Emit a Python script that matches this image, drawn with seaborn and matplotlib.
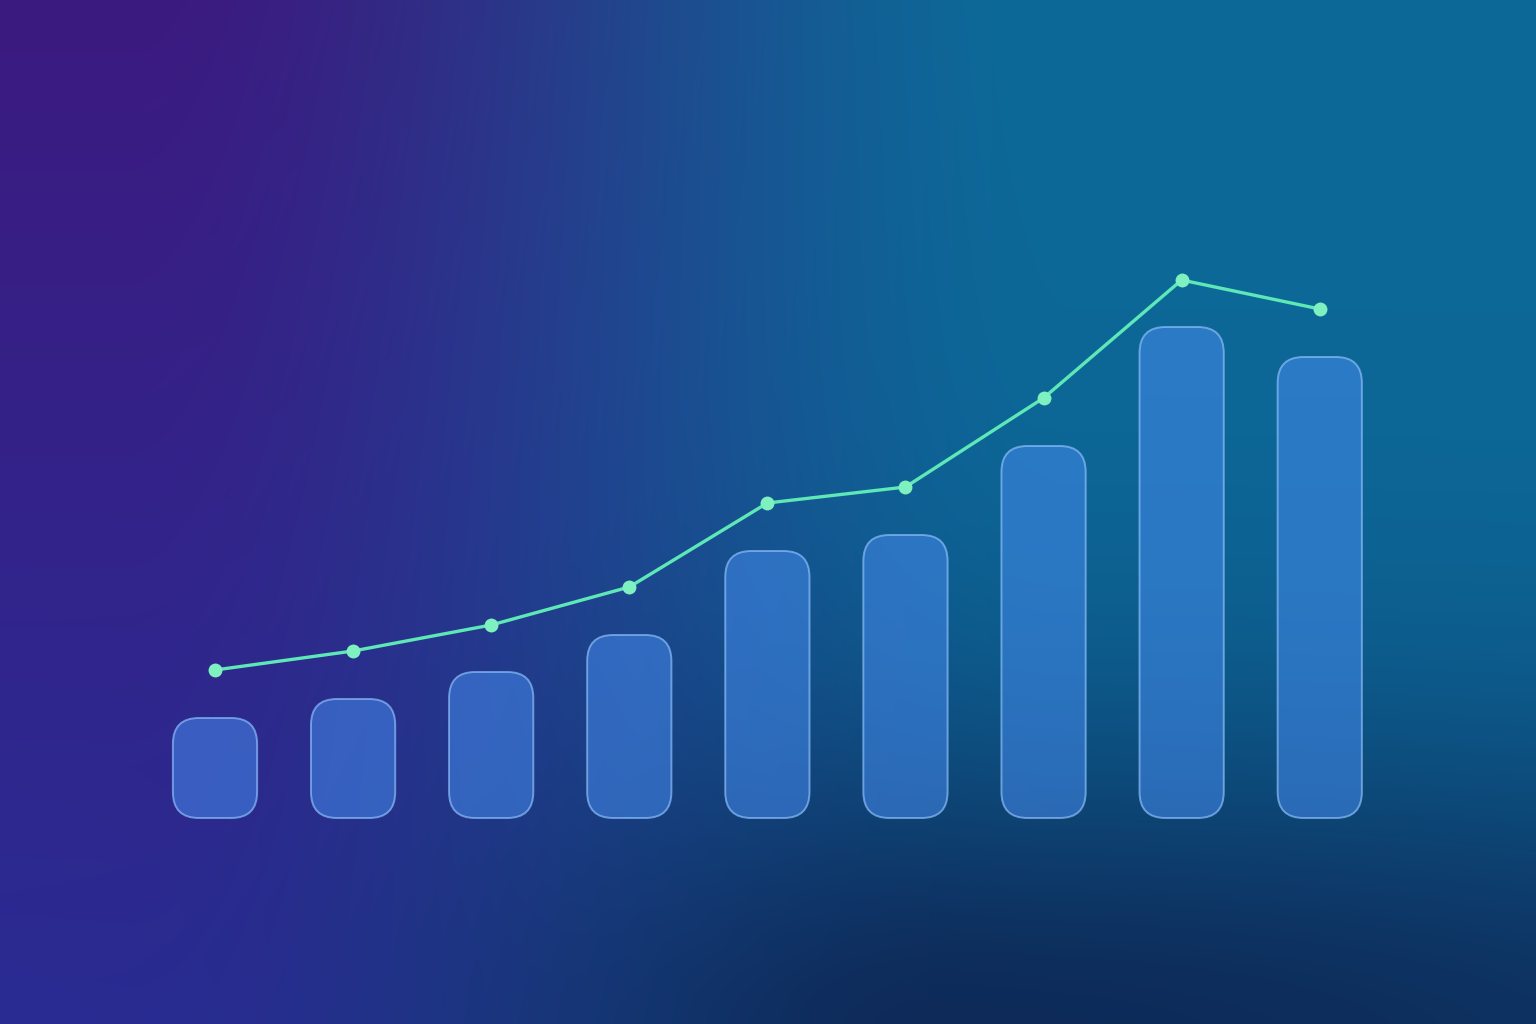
import numpy as np
import pandas as pd
import matplotlib
matplotlib.use("Agg")
import matplotlib.pyplot as plt
import seaborn as sns
from matplotlib.patches import FancyBboxPatch

# Chart values
periods = ["P1", "P2", "P3", "P4", "P5", "P6", "P7", "P8", "P9"]
bar_values = [10.0, 11.9, 14.6, 18.3, 26.7, 28.3, 37.2, 49.1, 46.1]
line_values = [14.8, 16.7, 19.3, 23.1, 31.5, 33.1, 42.0, 53.8, 50.9]

df = pd.DataFrame({"period": periods, "bars": bar_values, "trend": line_values})

W, H, DPI = 1536, 1024, 100
fig = plt.figure(figsize=(W / DPI, H / DPI), dpi=DPI)

# Background gradient (purple left -> teal right, dark glow along the bottom)
bg_ax = fig.add_axes([0, 0, 1, 1])
bg_ax.set_axis_off()
xx, yy = np.meshgrid(np.linspace(0, 1, 384), np.linspace(0, 1, 256))
t = np.clip((xx - 0.08) / 0.62, 0, 1)
t = t * t * (3 - 2 * t)
tl = np.array([60, 26, 128]); bl = np.array([42, 44, 148])
tr = np.array([12, 106, 152]); br = np.array([12, 100, 150])
left = tl[None, None, :] * (1 - yy[..., None]) + bl[None, None, :] * yy[..., None]
right = tr[None, None, :] * (1 - yy[..., None]) + br[None, None, :] * yy[..., None]
img = left * (1 - t[..., None]) + right * t[..., None]
sx = np.where(xx < 0.62, 0.3, 1.0)
d = 0.85 * np.exp(-((xx - 0.62) / sx) ** 2 - ((yy - 1.02) / 0.3) ** 2)
dark = np.array([14, 32, 78])
img = img * (1 - d[..., None]) + dark * d[..., None]
bg_ax.imshow(img / 255.0, extent=[0, 1, 0, 1], aspect="auto", origin="upper",
             interpolation="bicubic")

# Main axes covering whole figure
ax = fig.add_axes([0, 0, 1, 1])
ax.patch.set_alpha(0)
sns.barplot(data=df, x="period", y="bars", ax=ax, width=0.61,
            color="#448aec", saturation=1)
sns.lineplot(data=df, x="period", y="trend", ax=ax, color="#5ee8b8",
             linewidth=2.4, marker="o", markersize=10,
             markerfacecolor="#7ff0c0", markeredgewidth=0, sort=False)

ax.set_xlim(-1.557, 9.566)
ax.set_ylim(-20.6, 81.8)
ax.set_axis_off()

# Swap square bars for rounded ones
px_x = 1 / 138.1
px_y = 0.1
for p in list(ax.patches):
    x0, y0 = p.get_x(), p.get_y()
    w, h = p.get_width(), p.get_height()
    p.remove()
    r = 26 * px_x
    box = FancyBboxPatch((x0, y0), w, h,
                         boxstyle=f"round,pad=0,rounding_size={r}",
                         mutation_aspect=px_y / px_x,
                         facecolor=(68 / 255, 138 / 255, 236 / 255, 0.55),
                         edgecolor=(140 / 255, 190 / 255, 250 / 255, 0.7),
                         linewidth=1.4, zorder=1)
    ax.add_patch(box)

for line in ax.lines:
    line.set_zorder(3)

fig.savefig("out.png", dpi=DPI)
